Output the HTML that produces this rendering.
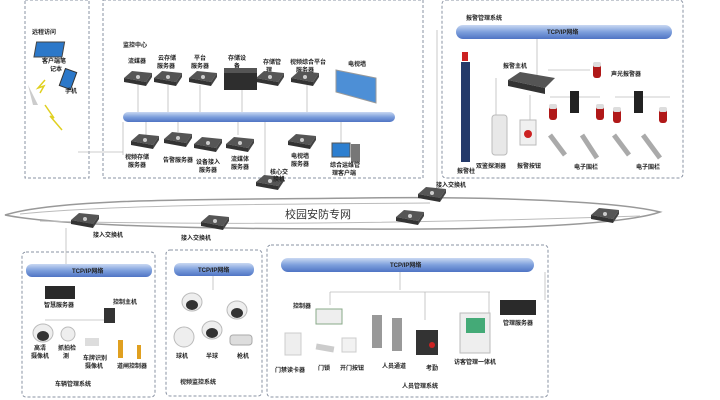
<!DOCTYPE html>
<html><head><meta charset="utf-8"><style>
html,body{margin:0;padding:0;background:#fff;width:720px;height:400px;overflow:hidden}
svg{display:block;font-family:"Liberation Sans","Noto Sans CJK SC",sans-serif}
.t{font-size:6px;fill:#222;font-weight:bold}
</style></head><body>
<svg width="720" height="400" viewBox="0 0 720 400">
<defs>
<linearGradient id="bus" x1="0" y1="0" x2="0" y2="1"><stop offset="0" stop-color="#c9d8f2"/><stop offset="0.5" stop-color="#7d9fdc"/><stop offset="1" stop-color="#4f74c4"/></linearGradient>
<g id="sw"><path d="M-14,-2 L-6,-9 L14,-7 L8,2 Z" fill="#555"/><path d="M-14,-2 L8,2 L8,6 L-14,2 Z" fill="#333"/><path d="M8,2 L14,-7 L14,-3 L8,6Z" fill="#444"/><circle cx="0" cy="-3" r="2" fill="#ccc"/></g>
<g id="dome"><ellipse cx="0" cy="0" rx="10" ry="9" fill="#eee" stroke="#bbb"/><ellipse cx="0" cy="3" rx="6" ry="5" fill="#333"/></g>
<g id="red"><rect x="-4" y="-8" width="8" height="16" rx="3" fill="#b01818"/><rect x="-4" y="-8" width="8" height="5" rx="2" fill="#ddd"/></g>
</defs>
<g fill="none" stroke="#8a93a3" stroke-width="1" stroke-dasharray="3,2">
<rect x="25" y="0" width="64" height="178"/>
<rect x="103" y="0" width="320" height="178"/>
<rect x="442" y="0" width="241" height="178" rx="4"/>
<rect x="22" y="252" width="133" height="145" rx="4"/>
<rect x="166" y="250" width="96" height="146" rx="4"/>
<rect x="267" y="245" width="281" height="152" rx="4"/>
</g>
<!-- connector lines -->
<g stroke="#bbb" stroke-width="0.8" fill="none">
<line x1="437" y1="30" x2="437" y2="190"/>
<line x1="123" y1="122" x2="123" y2="155"/>
<line x1="78" y1="152" x2="123" y2="152"/>
<line x1="66" y1="228" x2="66" y2="264"/>
<line x1="138" y1="80" x2="138" y2="112"/><line x1="168" y1="85" x2="168" y2="112"/><line x1="200" y1="85" x2="200" y2="112"/><line x1="242" y1="90" x2="242" y2="112"/><line x1="307" y1="85" x2="307" y2="112"/>
<line x1="146" y1="122" x2="146" y2="135"/><line x1="178" y1="122" x2="178" y2="132"/><line x1="238" y1="122" x2="238" y2="135"/><line x1="265" y1="122" x2="265" y2="178"/><line x1="341" y1="122" x2="341" y2="145"/>
<line x1="537" y1="38" x2="537" y2="75"/><line x1="530" y1="95" x2="530" y2="130"/><line x1="496" y1="78" x2="496" y2="115"/>
<line x1="548" y1="70" x2="590" y2="70"/><line x1="550" y1="97" x2="600" y2="97"/><line x1="615" y1="97" x2="670" y2="97"/>
<line x1="213" y1="276" x2="213" y2="290"/>
<line x1="545" y1="272" x2="545" y2="300"/><line x1="400" y1="272" x2="400" y2="290"/>
<line x1="330" y1="292" x2="490" y2="292"/><line x1="330" y1="292" x2="330" y2="305"/><line x1="425" y1="292" x2="425" y2="320"/><line x1="489" y1="292" x2="489" y2="320"/>
<line x1="45" y1="320" x2="110" y2="320"/>
</g>
<!-- cloud -->
<path d="M5,215 C60,198 200,200 360,198 C500,196 620,202 660,212 C620,226 480,230 360,229 C200,229 60,226 5,215 Z" fill="#fff" stroke="#999" stroke-width="1.5"/>
<path d="M20,214 C120,204 300,204 430,203 M40,221 C200,225 400,224 640,216" stroke="#bbb" fill="none"/>
<text x="285" y="218" font-size="11" fill="#333">校园安防专网</text>
<use href="#sw" x="85" y="222"/><use href="#sw" x="215" y="224"/><use href="#sw" x="410" y="219"/><use href="#sw" x="605" y="217"/><use href="#sw" x="270" y="184"/><use href="#sw" x="432" y="196"/>
<text class="t" x="93" y="237">接入交换机</text><text class="t" x="181" y="240">接入交换机</text><text class="t" x="436" y="187">接入交换机</text><text class="t" x="270" y="174">核心交</text><text class="t" x="273" y="181">换机</text>
<!-- remote -->
<text class="t" x="32" y="34">远程访问</text>
<rect x="44" y="42" width="28" height="15" fill="#2c78c9" stroke="#444" transform="skewX(-10)"/>
<text class="t" x="42" y="63">客户端笔</text><text class="t" x="50" y="71">记本</text>
<rect x="62" y="70" width="12" height="18" fill="#2c78c9" stroke="#333" transform="rotate(20 68 79)"/>
<text class="t" x="65" y="93">手机</text>
<path d="M33,105 L28,85 L38,105Z" fill="#ccc"/>
<path d="M45,80 L38,88 L44,86 L40,93" stroke="#e0d020" fill="none" stroke-width="1.5"/>
<path d="M45,105 L54,118 L50,116 L62,130" stroke="#e0d020" fill="none" stroke-width="1.5"/>
<!-- monitoring center -->
<text class="t" x="123" y="47">监控中心</text>
<rect x="123" y="112" width="272" height="10" rx="5" fill="url(#bus)"/>
<text class="t" x="128" y="63">流媒器</text><text class="t" x="158" y="60">云存储</text><text class="t" x="157" y="68">服务器</text><text class="t" x="194" y="60">平台</text><text class="t" x="191" y="68">服务器</text><text class="t" x="228" y="60">存储设</text><text class="t" x="234" y="68">备</text><text class="t" x="263" y="64">存储管</text><text class="t" x="266" y="72">理</text><text class="t" x="290" y="64">视频综合平台</text><text class="t" x="296" y="72">服务器</text><text class="t" x="348" y="66">电视墙</text>
<use href="#sw" x="138" y="80"/><use href="#sw" x="168" y="80"/><use href="#sw" x="203" y="80"/><use href="#sw" x="270" y="80"/><use href="#sw" x="305" y="80"/>
<rect x="224" y="72" width="33" height="18" fill="#2e2e2e"/><rect x="224" y="68" width="33" height="5" fill="#555"/>
<path d="M336,70 L376,78 L376,103 L336,92 Z" fill="#4d8fd6" stroke="#999"/>
<use href="#sw" x="145" y="143"/><use href="#sw" x="178" y="141"/><use href="#sw" x="208" y="146"/><use href="#sw" x="240" y="146"/><use href="#sw" x="302" y="143"/>
<rect x="332" y="143" width="18" height="14" fill="#2d7fd0" stroke="#555"/><rect x="351" y="144" width="9" height="18" fill="#777"/>
<text class="t" x="125" y="159">视频存储</text><text class="t" x="128" y="167">服务器</text><text class="t" x="163" y="162">告警服务器</text><text class="t" x="196" y="164">设备接入</text><text class="t" x="199" y="172">服务器</text><text class="t" x="231" y="161">流媒体</text><text class="t" x="231" y="169">服务器</text><text class="t" x="291" y="158">电视墙</text><text class="t" x="291" y="166">服务器</text><text class="t" x="330" y="167">综合运维管</text><text class="t" x="332" y="175">理客户端</text>
<!-- alarm -->
<text class="t" x="466" y="20">报警管理系统</text>
<rect x="456" y="25" width="216" height="14" rx="7" fill="url(#bus)"/>
<text class="t" x="547" y="34" fill="#123">TCP/IP网络</text>
<rect x="461" y="62" width="9" height="100" fill="#243a6a"/><rect x="462" y="52" width="6" height="9" fill="#c22"/>
<text class="t" x="457" y="173">报警柱</text>
<rect x="492" y="115" width="15" height="40" rx="3" fill="#e8e8e8" stroke="#bbb"/>
<text class="t" x="476" y="168">双鉴探测器</text>
<rect x="520" y="120" width="16" height="25" fill="#f0f0f0" stroke="#bbb"/><circle cx="528" cy="134" r="4" fill="#c22"/>
<text class="t" x="517" y="168">报警按钮</text>
<text class="t" x="503" y="68">报警主机</text>
<path d="M508,80 L520,72 L555,78 L545,88 Z" fill="#555"/><path d="M508,80 L545,88 L545,94 L508,86Z" fill="#333"/>
<use href="#red" x="597" y="70"/><text class="t" x="611" y="76">声光报警器</text>
<rect x="570" y="91" width="9" height="22" fill="#222"/><rect x="634" y="91" width="9" height="22" fill="#222"/>
<use href="#red" x="553" y="112"/><use href="#red" x="600" y="112"/><use href="#red" x="617" y="115"/><use href="#red" x="663" y="115"/>
<path d="M550,135 L565,155 M582,135 L597,158 M614,135 L629,155 M643,135 L660,158" stroke="#aaa" stroke-width="5"/>
<text class="t" x="574" y="169">电子围栏</text><text class="t" x="636" y="169">电子围栏</text>
<!-- vehicle -->
<rect x="26" y="264" width="126" height="13" rx="6" fill="url(#bus)"/><text class="t" x="72" y="273" fill="#123">TCP/IP网络</text>
<rect x="45" y="286" width="30" height="13" fill="#2a2a2a"/><text class="t" x="44" y="307">智慧服务器</text>
<text class="t" x="113" y="304">控制主机</text><rect x="104" y="308" width="11" height="15" fill="#333"/>
<use href="#dome" x="43" y="333"/><circle cx="68" cy="334" r="7" fill="#eee" stroke="#bbb"/>
<rect x="85" y="338" width="14" height="8" fill="#ddd"/><rect x="118" y="340" width="5" height="18" fill="#e0a020"/><rect x="137" y="345" width="4" height="14" fill="#e0a020"/>
<text class="t" x="34" y="350">高清</text><text class="t" x="31" y="358">摄像机</text><text class="t" x="58" y="350">抓拍检</text><text class="t" x="63" y="358">测</text><text class="t" x="83" y="360">车牌识别</text><text class="t" x="85" y="368">摄像机</text><text class="t" x="117" y="368">道闸控制器</text>
<text class="t" x="55" y="386">车辆管理系统</text>
<!-- video -->
<rect x="174" y="263" width="80" height="13" rx="6" fill="url(#bus)"/><text class="t" x="198" y="272" fill="#123">TCP/IP网络</text>
<use href="#dome" x="192" y="302"/><use href="#dome" x="237" y="310"/><circle cx="184" cy="337" r="10" fill="#eee" stroke="#bbb"/><use href="#dome" x="212" y="330"/>
<rect x="230" y="335" width="22" height="10" rx="3" fill="#ddd" stroke="#aaa"/>
<text class="t" x="176" y="358">球机</text><text class="t" x="206" y="358">半球</text><text class="t" x="237" y="358">枪机</text>
<text class="t" x="180" y="384">视频监控系统</text>
<!-- personnel -->
<rect x="281" y="258" width="253" height="14" rx="7" fill="url(#bus)"/><text class="t" x="390" y="267" fill="#123">TCP/IP网络</text>
<text class="t" x="293" y="308">控制器</text><rect x="316" y="309" width="26" height="15" fill="#eee" stroke="#8a8"/>
<rect x="285" y="333" width="16" height="22" fill="#eee" stroke="#ccc"/><rect x="316" y="345" width="18" height="6" fill="#ccc" transform="rotate(10 325 348)"/><rect x="342" y="338" width="14" height="14" fill="#f2f2f2" stroke="#ccc"/>
<rect x="372" y="315" width="10" height="33" fill="#999"/><rect x="392" y="318" width="10" height="33" fill="#999"/>
<rect x="416" y="330" width="22" height="25" fill="#333"/><circle cx="432" cy="345" r="3" fill="#c22"/>
<rect x="460" y="313" width="30" height="40" fill="#eee" stroke="#bbb"/><rect x="466" y="318" width="19" height="15" fill="#4a7"/>
<rect x="500" y="300" width="36" height="15" fill="#2a2a2a"/><text class="t" x="503" y="325">管理服务器</text>
<text class="t" x="275" y="372">门禁读卡器</text><text class="t" x="318" y="370">门锁</text><text class="t" x="340" y="370">开门按钮</text><text class="t" x="382" y="368">人员通道</text><text class="t" x="426" y="370">考勤</text><text class="t" x="454" y="364">访客管理一体机</text>
<text class="t" x="402" y="388">人员管理系统</text>
</svg>
</body></html>
